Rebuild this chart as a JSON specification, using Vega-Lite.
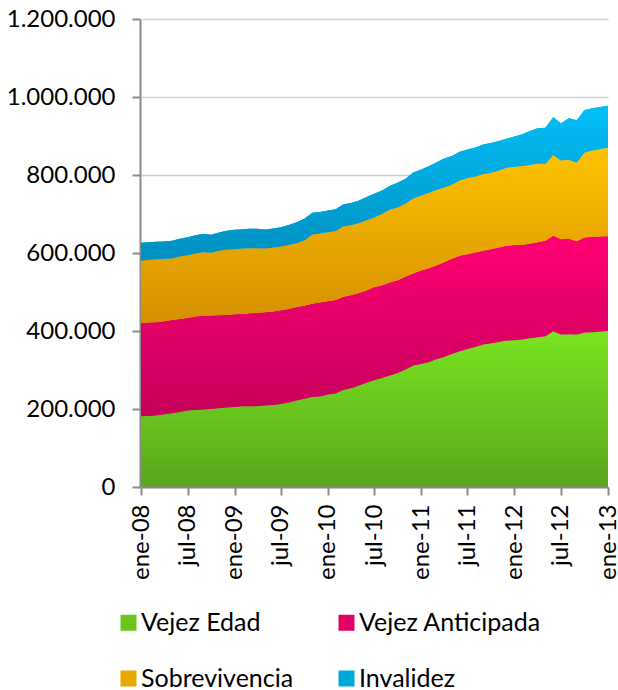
{
  "$schema": "https://vega.github.io/schema/vega-lite/v6.json",
  "width": 467,
  "height": 468,
  "autosize": "none",
  "padding": {"left": 141, "top": 19, "right": 10, "bottom": 203},
  "background": "white",
  "data": {"values": [
    {"mes":"2008-01","serie":"Vejez Edad","valor":181400},{"mes":"2008-01","serie":"Vejez Anticipada","valor":239400},{"mes":"2008-01","serie":"Sobrevivencia","valor":159100},{"mes":"2008-01","serie":"Invalidez","valor":46100},
    {"mes":"2008-02","serie":"Vejez Edad","valor":182200},{"mes":"2008-02","serie":"Vejez Anticipada","valor":239500},{"mes":"2008-02","serie":"Sobrevivencia","valor":160700},{"mes":"2008-02","serie":"Invalidez","valor":45400},
    {"mes":"2008-03","serie":"Vejez Edad","valor":183100},{"mes":"2008-03","serie":"Vejez Anticipada","valor":239500},{"mes":"2008-03","serie":"Sobrevivencia","valor":161600},{"mes":"2008-03","serie":"Invalidez","valor":44400},
    {"mes":"2008-04","serie":"Vejez Edad","valor":186500},{"mes":"2008-04","serie":"Vejez Anticipada","valor":238700},{"mes":"2008-04","serie":"Sobrevivencia","valor":159800},{"mes":"2008-04","serie":"Invalidez","valor":44600},
    {"mes":"2008-05","serie":"Vejez Edad","valor":189100},{"mes":"2008-05","serie":"Vejez Anticipada","valor":239400},{"mes":"2008-05","serie":"Sobrevivencia","valor":157500},{"mes":"2008-05","serie":"Invalidez","valor":45200},
    {"mes":"2008-06","serie":"Vejez Edad","valor":192500},{"mes":"2008-06","serie":"Vejez Anticipada","valor":238500},{"mes":"2008-06","serie":"Sobrevivencia","valor":160200},{"mes":"2008-06","serie":"Invalidez","valor":45100},
    {"mes":"2008-07","serie":"Vejez Edad","valor":196000},{"mes":"2008-07","serie":"Vejez Anticipada","valor":237600},{"mes":"2008-07","serie":"Sobrevivencia","valor":160900},{"mes":"2008-07","serie":"Invalidez","valor":46200},
    {"mes":"2008-08","serie":"Vejez Edad","valor":197600},{"mes":"2008-08","serie":"Vejez Anticipada","valor":239600},{"mes":"2008-08","serie":"Sobrevivencia","valor":161700},{"mes":"2008-08","serie":"Invalidez","valor":46900},
    {"mes":"2008-09","serie":"Vejez Edad","valor":198600},{"mes":"2008-09","serie":"Vejez Anticipada","valor":240200},{"mes":"2008-09","serie":"Sobrevivencia","valor":163400},{"mes":"2008-09","serie":"Invalidez","valor":47000},
    {"mes":"2008-10","serie":"Vejez Edad","valor":200200},{"mes":"2008-10","serie":"Vejez Anticipada","valor":239600},{"mes":"2008-10","serie":"Sobrevivencia","valor":160600},{"mes":"2008-10","serie":"Invalidez","valor":46200},
    {"mes":"2008-11","serie":"Vejez Edad","valor":201900},{"mes":"2008-11","serie":"Vejez Anticipada","valor":238600},{"mes":"2008-11","serie":"Sobrevivencia","valor":165000},{"mes":"2008-11","serie":"Invalidez","valor":47200},
    {"mes":"2008-12","serie":"Vejez Edad","valor":203600},{"mes":"2008-12","serie":"Vejez Anticipada","valor":237700},{"mes":"2008-12","serie":"Sobrevivencia","valor":166800},{"mes":"2008-12","serie":"Invalidez","valor":48700},
    {"mes":"2009-01","serie":"Vejez Edad","valor":205300},{"mes":"2009-01","serie":"Vejez Anticipada","valor":237800},{"mes":"2009-01","serie":"Sobrevivencia","valor":166800},{"mes":"2009-01","serie":"Invalidez","valor":49500},
    {"mes":"2009-02","serie":"Vejez Edad","valor":207000},{"mes":"2009-02","serie":"Vejez Anticipada","valor":236900},{"mes":"2009-02","serie":"Sobrevivencia","valor":167800},{"mes":"2009-02","serie":"Invalidez","valor":49500},
    {"mes":"2009-03","serie":"Vejez Edad","valor":207000},{"mes":"2009-03","serie":"Vejez Anticipada","valor":238700},{"mes":"2009-03","serie":"Sobrevivencia","valor":166800},{"mes":"2009-03","serie":"Invalidez","valor":49500},
    {"mes":"2009-04","serie":"Vejez Edad","valor":207000},{"mes":"2009-04","serie":"Vejez Anticipada","valor":239400},{"mes":"2009-04","serie":"Sobrevivencia","valor":166100},{"mes":"2009-04","serie":"Invalidez","valor":49500},
    {"mes":"2009-05","serie":"Vejez Edad","valor":208800},{"mes":"2009-05","serie":"Vejez Anticipada","valor":239400},{"mes":"2009-05","serie":"Sobrevivencia","valor":163500},{"mes":"2009-05","serie":"Invalidez","valor":48700},
    {"mes":"2009-06","serie":"Vejez Edad","valor":210400},{"mes":"2009-06","serie":"Vejez Anticipada","valor":239600},{"mes":"2009-06","serie":"Sobrevivencia","valor":164300},{"mes":"2009-06","serie":"Invalidez","valor":48700},
    {"mes":"2009-07","serie":"Vejez Edad","valor":213000},{"mes":"2009-07","serie":"Vejez Anticipada","valor":240400},{"mes":"2009-07","serie":"Sobrevivencia","valor":163400},{"mes":"2009-07","serie":"Invalidez","valor":49500},
    {"mes":"2009-08","serie":"Vejez Edad","valor":216500},{"mes":"2009-08","serie":"Vejez Anticipada","valor":240200},{"mes":"2009-08","serie":"Sobrevivencia","valor":163500},{"mes":"2009-08","serie":"Invalidez","valor":51300},
    {"mes":"2009-09","serie":"Vejez Edad","valor":222000},{"mes":"2009-09","serie":"Vejez Anticipada","valor":239500},{"mes":"2009-09","serie":"Sobrevivencia","valor":163500},{"mes":"2009-09","serie":"Invalidez","valor":54000},
    {"mes":"2009-10","serie":"Vejez Edad","valor":226000},{"mes":"2009-10","serie":"Vejez Anticipada","valor":239000},{"mes":"2009-10","serie":"Sobrevivencia","valor":167000},{"mes":"2009-10","serie":"Invalidez","valor":56000},
    {"mes":"2009-11","serie":"Vejez Edad","valor":231000},{"mes":"2009-11","serie":"Vejez Anticipada","valor":239000},{"mes":"2009-11","serie":"Sobrevivencia","valor":177600},{"mes":"2009-11","serie":"Invalidez","valor":55900},
    {"mes":"2009-12","serie":"Vejez Edad","valor":232000},{"mes":"2009-12","serie":"Vejez Anticipada","valor":241000},{"mes":"2009-12","serie":"Sobrevivencia","valor":176700},{"mes":"2009-12","serie":"Invalidez","valor":55300},
    {"mes":"2010-01","serie":"Vejez Edad","valor":237400},{"mes":"2010-01","serie":"Vejez Anticipada","valor":239100},{"mes":"2010-01","serie":"Sobrevivencia","valor":177000},{"mes":"2010-01","serie":"Invalidez","valor":55500},
    {"mes":"2010-02","serie":"Vejez Edad","valor":240000},{"mes":"2010-02","serie":"Vejez Anticipada","valor":239400},{"mes":"2010-02","serie":"Sobrevivencia","valor":177000},{"mes":"2010-02","serie":"Invalidez","valor":56100},
    {"mes":"2010-03","serie":"Vejez Edad","valor":248500},{"mes":"2010-03","serie":"Vejez Anticipada","valor":239000},{"mes":"2010-03","serie":"Sobrevivencia","valor":180500},{"mes":"2010-03","serie":"Invalidez","valor":56500},
    {"mes":"2010-04","serie":"Vejez Edad","valor":253200},{"mes":"2010-04","serie":"Vejez Anticipada","valor":238300},{"mes":"2010-04","serie":"Sobrevivencia","valor":179500},{"mes":"2010-04","serie":"Invalidez","valor":57000},
    {"mes":"2010-05","serie":"Vejez Edad","valor":259600},{"mes":"2010-05","serie":"Vejez Anticipada","valor":237000},{"mes":"2010-05","serie":"Sobrevivencia","valor":179400},{"mes":"2010-05","serie":"Invalidez","valor":57800},
    {"mes":"2010-06","serie":"Vejez Edad","valor":267000},{"mes":"2010-06","serie":"Vejez Anticipada","valor":236900},{"mes":"2010-06","serie":"Sobrevivencia","valor":180100},{"mes":"2010-06","serie":"Invalidez","valor":59300},
    {"mes":"2010-07","serie":"Vejez Edad","valor":273800},{"mes":"2010-07","serie":"Vejez Anticipada","valor":238200},{"mes":"2010-07","serie":"Sobrevivencia","valor":179200},{"mes":"2010-07","serie":"Invalidez","valor":60800},
    {"mes":"2010-08","serie":"Vejez Edad","valor":279800},{"mes":"2010-08","serie":"Vejez Anticipada","valor":237700},{"mes":"2010-08","serie":"Sobrevivencia","valor":182200},{"mes":"2010-08","serie":"Invalidez","valor":60800},
    {"mes":"2010-09","serie":"Vejez Edad","valor":285800},{"mes":"2010-09","serie":"Vejez Anticipada","valor":238600},{"mes":"2010-09","serie":"Sobrevivencia","valor":187300},{"mes":"2010-09","serie":"Invalidez","valor":60600},
    {"mes":"2010-10","serie":"Vejez Edad","valor":292500},{"mes":"2010-10","serie":"Vejez Anticipada","valor":237800},{"mes":"2010-10","serie":"Sobrevivencia","valor":186600},{"mes":"2010-10","serie":"Invalidez","valor":63100},
    {"mes":"2010-11","serie":"Vejez Edad","valor":301200},{"mes":"2010-11","serie":"Vejez Anticipada","valor":237600},{"mes":"2010-11","serie":"Sobrevivencia","valor":188400},{"mes":"2010-11","serie":"Invalidez","valor":63100},
    {"mes":"2010-12","serie":"Vejez Edad","valor":311500},{"mes":"2010-12","serie":"Vejez Anticipada","valor":236000},{"mes":"2010-12","serie":"Sobrevivencia","valor":192500},{"mes":"2010-12","serie":"Invalidez","valor":66700},
    {"mes":"2011-01","serie":"Vejez Edad","valor":315600},{"mes":"2011-01","serie":"Vejez Anticipada","valor":239400},{"mes":"2011-01","serie":"Sobrevivencia","valor":192700},{"mes":"2011-01","serie":"Invalidez","valor":66700},
    {"mes":"2011-02","serie":"Vejez Edad","valor":320700},{"mes":"2011-02","serie":"Vejez Anticipada","valor":240300},{"mes":"2011-02","serie":"Sobrevivencia","valor":193300},{"mes":"2011-02","serie":"Invalidez","valor":68500},
    {"mes":"2011-03","serie":"Vejez Edad","valor":327600},{"mes":"2011-03","serie":"Vejez Anticipada","valor":240400},{"mes":"2011-03","serie":"Sobrevivencia","valor":193300},{"mes":"2011-03","serie":"Invalidez","valor":71000},
    {"mes":"2011-04","serie":"Vejez Edad","valor":333600},{"mes":"2011-04","serie":"Vejez Anticipada","valor":242400},{"mes":"2011-04","serie":"Sobrevivencia","valor":192000},{"mes":"2011-04","serie":"Invalidez","valor":74600},
    {"mes":"2011-05","serie":"Vejez Edad","valor":341000},{"mes":"2011-05","serie":"Vejez Anticipada","valor":244000},{"mes":"2011-05","serie":"Sobrevivencia","valor":190000},{"mes":"2011-05","serie":"Invalidez","valor":74000},
    {"mes":"2011-06","serie":"Vejez Edad","valor":348200},{"mes":"2011-06","serie":"Vejez Anticipada","valor":244500},{"mes":"2011-06","serie":"Sobrevivencia","valor":193500},{"mes":"2011-06","serie":"Invalidez","valor":73300},
    {"mes":"2011-07","serie":"Vejez Edad","valor":354100},{"mes":"2011-07","serie":"Vejez Anticipada","valor":242900},{"mes":"2011-07","serie":"Sobrevivencia","valor":195100},{"mes":"2011-07","serie":"Invalidez","valor":73600},
    {"mes":"2011-08","serie":"Vejez Edad","valor":359200},{"mes":"2011-08","serie":"Vejez Anticipada","valor":242200},{"mes":"2011-08","serie":"Sobrevivencia","valor":195000},{"mes":"2011-08","serie":"Invalidez","valor":74400},
    {"mes":"2011-09","serie":"Vejez Edad","valor":365400},{"mes":"2011-09","serie":"Vejez Anticipada","valor":240100},{"mes":"2011-09","serie":"Sobrevivencia","valor":196800},{"mes":"2011-09","serie":"Invalidez","valor":76200},
    {"mes":"2011-10","serie":"Vejez Edad","valor":368700},{"mes":"2011-10","serie":"Vejez Anticipada","valor":241200},{"mes":"2011-10","serie":"Sobrevivencia","valor":195800},{"mes":"2011-10","serie":"Invalidez","valor":76200},
    {"mes":"2011-11","serie":"Vejez Edad","valor":372000},{"mes":"2011-11","serie":"Vejez Anticipada","valor":242300},{"mes":"2011-11","serie":"Sobrevivencia","valor":197500},{"mes":"2011-11","serie":"Invalidez","valor":75200},
    {"mes":"2011-12","serie":"Vejez Edad","valor":375600},{"mes":"2011-12","serie":"Vejez Anticipada","valor":242800},{"mes":"2011-12","serie":"Sobrevivencia","valor":200100},{"mes":"2011-12","serie":"Invalidez","valor":74400},
    {"mes":"2012-01","serie":"Vejez Edad","valor":376400},{"mes":"2012-01","serie":"Vejez Anticipada","valor":243800},{"mes":"2012-01","serie":"Sobrevivencia","valor":200900},{"mes":"2012-01","serie":"Invalidez","valor":77900},
    {"mes":"2012-02","serie":"Vejez Edad","valor":378200},{"mes":"2012-02","serie":"Vejez Anticipada","valor":242000},{"mes":"2012-02","serie":"Sobrevivencia","valor":202600},{"mes":"2012-02","serie":"Invalidez","valor":81400},
    {"mes":"2012-03","serie":"Vejez Edad","valor":381500},{"mes":"2012-03","serie":"Vejez Anticipada","valor":242000},{"mes":"2012-03","serie":"Sobrevivencia","valor":201900},{"mes":"2012-03","serie":"Invalidez","valor":87200},
    {"mes":"2012-04","serie":"Vejez Edad","valor":384100},{"mes":"2012-04","serie":"Vejez Anticipada","valor":243700},{"mes":"2012-04","serie":"Sobrevivencia","valor":202000},{"mes":"2012-04","serie":"Invalidez","valor":89800},
    {"mes":"2012-05","serie":"Vejez Edad","valor":386700},{"mes":"2012-05","serie":"Vejez Anticipada","valor":244500},{"mes":"2012-05","serie":"Sobrevivencia","valor":196800},{"mes":"2012-05","serie":"Invalidez","valor":93100},
    {"mes":"2012-06","serie":"Vejez Edad","valor":399500},{"mes":"2012-06","serie":"Vejez Anticipada","valor":244500},{"mes":"2012-06","serie":"Sobrevivencia","valor":207100},{"mes":"2012-06","serie":"Invalidez","valor":96700},
    {"mes":"2012-07","serie":"Vejez Edad","valor":391000},{"mes":"2012-07","serie":"Vejez Anticipada","valor":244500},{"mes":"2012-07","serie":"Sobrevivencia","valor":202000},{"mes":"2012-07","serie":"Invalidez","valor":94900},
    {"mes":"2012-08","serie":"Vejez Edad","valor":391800},{"mes":"2012-08","serie":"Vejez Anticipada","valor":244500},{"mes":"2012-08","serie":"Sobrevivencia","valor":202700},{"mes":"2012-08","serie":"Invalidez","valor":106200},
    {"mes":"2012-09","serie":"Vejez Edad","valor":391000},{"mes":"2012-09","serie":"Vejez Anticipada","valor":239400},{"mes":"2012-09","serie":"Sobrevivencia","valor":201900},{"mes":"2012-09","serie":"Invalidez","valor":107800},
    {"mes":"2012-10","serie":"Vejez Edad","valor":396200},{"mes":"2012-10","serie":"Vejez Anticipada","valor":243700},{"mes":"2012-10","serie":"Sobrevivencia","valor":218100},{"mes":"2012-10","serie":"Invalidez","valor":108500},
    {"mes":"2012-11","serie":"Vejez Edad","valor":397000},{"mes":"2012-11","serie":"Vejez Anticipada","valor":244500},{"mes":"2012-11","serie":"Sobrevivencia","valor":221600},{"mes":"2012-11","serie":"Invalidez","valor":107800},
    {"mes":"2012-12","serie":"Vejez Edad","valor":398700},{"mes":"2012-12","serie":"Vejez Anticipada","valor":243800},{"mes":"2012-12","serie":"Sobrevivencia","valor":224000},{"mes":"2012-12","serie":"Invalidez","valor":107700},
    {"mes":"2013-01","serie":"Vejez Edad","valor":400300},{"mes":"2013-01","serie":"Vejez Anticipada","valor":242900},{"mes":"2013-01","serie":"Sobrevivencia","valor":226600},{"mes":"2013-01","serie":"Invalidez","valor":107800}
  ]},
  "transform": [
    {"stack": "valor", "groupby": ["mes"], "sort": [{"field": "serie", "order": "descending"}], "as": ["v0", "v1"]}
  ],
  "encoding": {
    "x": {
      "field": "mes", "type": "temporal",
      "scale": {"type": "utc", "nice": false, "domain": [{"year": 2008, "month": 1, "date": 1, "utc": true}, {"year": 2013, "month": 1, "date": 1, "utc": true}]},
      "axis": {
        "title": null,
        "values": [
          {"year": 2008, "month": 1, "date": 1, "utc": true}, {"year": 2008, "month": 7, "date": 1, "utc": true},
          {"year": 2009, "month": 1, "date": 1, "utc": true}, {"year": 2009, "month": 7, "date": 1, "utc": true},
          {"year": 2010, "month": 1, "date": 1, "utc": true}, {"year": 2010, "month": 7, "date": 1, "utc": true},
          {"year": 2011, "month": 1, "date": 1, "utc": true}, {"year": 2011, "month": 7, "date": 1, "utc": true},
          {"year": 2012, "month": 1, "date": 1, "utc": true}, {"year": 2012, "month": 7, "date": 1, "utc": true},
          {"year": 2013, "month": 1, "date": 1, "utc": true}
        ],
        "labelExpr": "['ene','feb','mar','abr','may','jun','jul','ago','sep','oct','nov','dic'][utcmonth(datum.value)] + '-' + utcFormat(datum.value, '%y')",
        "labelAngle": -90, "labelPadding": 9, "labelFont": "Lato", "labelFontSize": 24, "labelColor": "#000000",
        "labelFlush": false, "labelOverlap": false, "labelBound": false,
        "grid": false, "tickSize": 8, "tickWidth": 2, "tickColor": "#8a8a8a",
        "domainColor": "#8a8a8a", "domainWidth": 2, "zindex": 1
      }
    },
    "y": {
      "field": "v1", "type": "quantitative",
      "scale": {"domain": [0, 1200000], "nice": false},
      "axis": {
        "title": null,
        "values": [0, 200000, 400000, 600000, 800000, 1000000, 1200000],
        "labelExpr": "replace(replace(format(datum.value, ','), ',', '.'), ',', '.')",
        "labelPadding": 17, "labelFont": "Lato", "labelFontSize": 24, "labelColor": "#000000",
        "labelFlush": false, "labelOverlap": false, "labelBound": false,
        "grid": true, "gridColor": "#d0d0d0", "gridWidth": 1.5,
        "tickSize": 8, "tickWidth": 2, "tickColor": "#8a8a8a",
        "domainColor": "#8a8a8a", "domainWidth": 2, "offset": 1, "zindex": 0
      }
    },
    "y2": {"field": "v0"}
  },
  "layer": [
    {
      "mark": {"type": "area", "opacity": 1, "strokeWidth": 0},
      "encoding": {
        "color": {
          "field": "serie", "type": "nominal",
          "scale": {
            "domain": ["Vejez Edad", "Vejez Anticipada", "Sobrevivencia", "Invalidez"],
            "range": ["#6bc51e", "#e30067", "#eaa900", "#00a8dc"]
          },
          "legend": {
            "title": null, "orient": "none", "legendX": -25, "legendY": 591,
            "columns": 2, "direction": "horizontal",
            "symbolType": "square", "symbolSize": 256, "symbolStrokeWidth": 0,
            "labelFont": "Lato", "labelFontSize": 25, "labelColor": "#000000", "labelOffset": 0, "labelLimit": 0,
            "columnPadding": 40, "rowPadding": 30, "padding": 0,
            "encode": {"symbols": {"update": {"fill": {"signal": "datum.value === 'Vejez Edad' ? {'gradient': 'linear', 'x1': 0, 'y1': 0, 'x2': 0, 'y2': 1, 'stops': [{'offset': 0, 'color': '#7ae421'}, {'offset': 1, 'color': '#5aa51b'}]} : datum.value === 'Vejez Anticipada' ? {'gradient': 'linear', 'x1': 0, 'y1': 0, 'x2': 0, 'y2': 1, 'stops': [{'offset': 0, 'color': '#ff0074'}, {'offset': 1, 'color': '#c4005a'}]} : datum.value === 'Sobrevivencia' ? {'gradient': 'linear', 'x1': 0, 'y1': 0, 'x2': 0, 'y2': 1, 'stops': [{'offset': 0, 'color': '#ffc300'}, {'offset': 1, 'color': '#d58f00'}]} : {'gradient': 'linear', 'x1': 0, 'y1': 0, 'x2': 0, 'y2': 1, 'stops': [{'offset': 0, 'color': '#00c0f8'}, {'offset': 1, 'color': '#008fc0'}]}"}}}}
          }
        }
      }
    },
    {
      "transform": [{"filter": "datum.serie === 'Vejez Edad'"}],
      "mark": {"type": "area", "opacity": 1, "strokeWidth": 0, "fill": {"gradient": "linear", "x1": 0, "y1": 0, "x2": 0, "y2": 1, "stops": [{"offset": 0, "color": "#7ae421"}, {"offset": 1, "color": "#5aa51b"}]}}
    },
    {
      "transform": [{"filter": "datum.serie === 'Vejez Anticipada'"}],
      "mark": {"type": "area", "opacity": 1, "strokeWidth": 0, "fill": {"gradient": "linear", "x1": 0, "y1": 0, "x2": 0, "y2": 1, "stops": [{"offset": 0, "color": "#ff0074"}, {"offset": 1, "color": "#c4005a"}]}}
    },
    {
      "transform": [{"filter": "datum.serie === 'Sobrevivencia'"}],
      "mark": {"type": "area", "opacity": 1, "strokeWidth": 0, "fill": {"gradient": "linear", "x1": 0, "y1": 0, "x2": 0, "y2": 1, "stops": [{"offset": 0, "color": "#ffc300"}, {"offset": 1, "color": "#d58f00"}]}}
    },
    {
      "transform": [{"filter": "datum.serie === 'Invalidez'"}],
      "mark": {"type": "area", "opacity": 1, "strokeWidth": 0, "fill": {"gradient": "linear", "x1": 0, "y1": 0, "x2": 0, "y2": 1, "stops": [{"offset": 0, "color": "#00c0f8"}, {"offset": 1, "color": "#008fc0"}]}}
    }
  ],
  "config": {"view": {"stroke": null}}
}
